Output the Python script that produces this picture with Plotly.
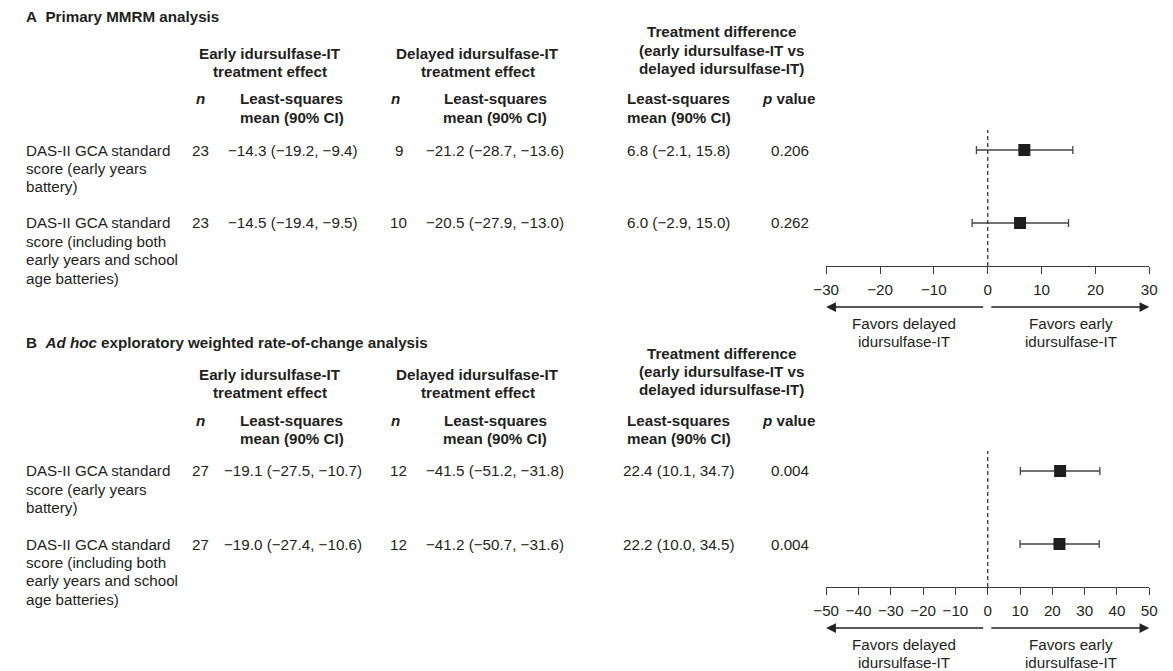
import plotly.graph_objects as go

# ---------------- data ----------------
row_labels = [
    ["DAS-II GCA standard", "score (early years", "battery)"],
    ["DAS-II GCA standard", "score (including both", "early years and school", "age batteries)"],
]

# Panel A: Primary MMRM analysis
a_n_early = [23, 23]
a_early_mean = [-14.3, -14.5]
a_early_lo = [-19.2, -19.4]
a_early_hi = [-9.4, -9.5]
a_n_delayed = [9, 10]
a_delayed_mean = [-21.2, -20.5]
a_delayed_lo = [-28.7, -27.9]
a_delayed_hi = [-13.6, -13.0]
a_diff_mean = [6.8, 6.0]
a_diff_lo = [-2.1, -2.9]
a_diff_hi = [15.8, 15.0]
a_p = ["0.206", "0.262"]
a_ticks = [-30, -20, -10, 0, 10, 20, 30]

# Panel B: Ad hoc exploratory weighted rate-of-change analysis
b_n_early = [27, 27]
b_early_mean = [-19.1, -19.0]
b_early_lo = [-27.5, -27.4]
b_early_hi = [-10.7, -10.6]
b_n_delayed = [12, 12]
b_delayed_mean = [-41.5, -41.2]
b_delayed_lo = [-51.2, -50.7]
b_delayed_hi = [-31.8, -31.6]
b_diff_mean = [22.4, 22.2]
b_diff_lo = [10.1, 10.0]
b_diff_hi = [34.7, 34.5]
b_p = ["0.004", "0.004"]
b_ticks = [-50, -40, -30, -20, -10, 0, 10, 20, 30, 40, 50]

# ---------------- layout helpers ----------------
W, H = 1173, 671
FONT = "Liberation Sans, Arial, Helvetica, sans-serif"
TXT = "#231f20"
LINE = "#3c3c3c"
FS = 15.2
LH = 18.4  # line spacing in px


def px(x):
    return x / W


def py(y):
    return 1 - y / H


def fmt(v):
    s = f"{abs(v):.1f}"
    return ("\u2212" + s) if v < 0 else s


def ci(m, lo, hi):
    return f"{fmt(m)} ({fmt(lo)}, {fmt(hi)})"


def tick_text(vals):
    return [("\u2212" + str(abs(v))) if v < 0 else str(v) for v in vals]


annotations = []
shapes = []


def text(x, y, s, xanchor="center"):
    annotations.append(dict(
        x=px(x), y=py(y), xref="paper", yref="paper", text=s, showarrow=False,
        xanchor=xanchor, yanchor="middle", align="left" if xanchor == "left" else "center",
        borderpad=0, borderwidth=0,
        font=dict(family=FONT, size=FS, color=TXT)))


def lines(x, y0, parts, xanchor="center", bold=False):
    for k, s in enumerate(parts):
        text(x, y0 + k * LH, f"<b>{s}</b>" if bold else s, xanchor)


def arrow(x_head, x_tail, y):
    annotations.append(dict(
        x=px(x_head), y=py(y), xref="paper", yref="paper",
        ax=x_tail - x_head, ay=0, axref="pixel", ayref="pixel",
        text="", showarrow=True, arrowhead=2, arrowsize=1.5, arrowwidth=1.3,
        arrowcolor="#222", standoff=0, startstandoff=0))


fig = go.Figure()

X0, X1 = 828, 1157  # forest axis pixel extent
ZERO = (X0 + X1) / 2

panels = [
    dict(off=0, title="<b>A\u00a0\u00a0Primary MMRM analysis</b>", title_y=17,
         n_e=a_n_early, e_m=a_early_mean, e_lo=a_early_lo, e_hi=a_early_hi,
         n_d=a_n_delayed, d_m=a_delayed_mean, d_lo=a_delayed_lo, d_hi=a_delayed_hi,
         t_m=a_diff_mean, t_lo=a_diff_lo, t_hi=a_diff_hi, p=a_p, ticks=a_ticks,
         xa="x", ya="y"),
    dict(off=321, title="<b>B\u00a0\u00a0<i>Ad hoc</i> exploratory weighted rate-of-change analysis</b>",
         title_y=343,
         n_e=b_n_early, e_m=b_early_mean, e_lo=b_early_lo, e_hi=b_early_hi,
         n_d=b_n_delayed, d_m=b_delayed_mean, d_lo=b_delayed_lo, d_hi=b_delayed_hi,
         t_m=b_diff_mean, t_lo=b_diff_lo, t_hi=b_diff_hi, p=b_p, ticks=b_ticks,
         xa="x2", ya="y2"),
]

layout_axes = {}
for i, P in enumerate(panels):
    o = P["off"]
    # titles and headers
    text(13, P["title_y"], P["title"], xanchor="left")
    lines(262, 53.5 + o, ["Early idursulfase-IT", "treatment effect"], bold=True)
    lines(473, 53.5 + o, ["Delayed idursulfase-IT", "treatment effect"], bold=True)
    lines(721, 32 + o, ["Treatment difference", "(early idursulfase-IT vs",
                        "delayed idursulfase-IT)"], bold=True)
    text(191, 99 + o, "<b><i>n</i></b>")
    text(389, 99 + o, "<b><i>n</i></b>")
    for cx in (284, 491, 678):
        lines(cx, 99 + o, ["Least-squares", "mean (90% CI)"], bold=True)
    text(790, 99 + o, "<b><i>p</i> value</b>")

    row_y = [150 + o, 223 + o]
    for r in range(2):
        lines(13, row_y[r], row_labels[r], xanchor="left")
        text(191, row_y[r], str(P["n_e"][r]))
        text(285, row_y[r], ci(P["e_m"][r], P["e_lo"][r], P["e_hi"][r]))
        text(393, row_y[r], str(P["n_d"][r]))
        text(491, row_y[r], ci(P["d_m"][r], P["d_lo"][r], P["d_hi"][r]))
        text(678, row_y[r], ci(P["t_m"][r], P["t_lo"][r], P["t_hi"][r]))
        text(791, row_y[r], P["p"][r])

    # forest plot axes: y domain from dashed top to axis line
    top, bottom = 130 + o, 266 + o
    step = row_y[1] - row_y[0]
    r_top = (top - row_y[0]) / step
    r_bot = (bottom - row_y[0]) / step
    t = P["ticks"]
    xkey = "xaxis" if i == 0 else "xaxis2"
    ykey = "yaxis" if i == 0 else "yaxis2"
    layout_axes[xkey] = dict(
        domain=[px(X0), px(X1)], range=[t[0], t[-1]], anchor=P["ya"],
        showline=True, linecolor=LINE, linewidth=1.3, mirror=False,
        ticks="outside", ticklen=7, tickwidth=1.3, tickcolor=LINE,
        tickvals=t, ticktext=tick_text(t), ticklabelstandoff=3,
        tickfont=dict(family=FONT, size=FS, color=TXT),
        showgrid=False, zeroline=False, fixedrange=True)
    layout_axes[ykey] = dict(
        domain=[py(bottom), py(top)], range=[r_bot, r_top], anchor=P["xa"],
        visible=False, showgrid=False, zeroline=False, fixedrange=True)

    fig.add_trace(go.Scatter(
        x=P["t_m"], y=list(range(len(P["t_m"]))), xaxis=P["xa"], yaxis=P["ya"],
        mode="markers",
        marker=dict(symbol="square", size=12, color="#1e1e1e"),
        error_x=dict(type="data", symmetric=False,
                     array=[h - m for h, m in zip(P["t_hi"], P["t_m"])],
                     arrayminus=[m - l for m, l in zip(P["t_m"], P["t_lo"])],
                     color="#444", thickness=1.3, width=4),
        hoverinfo="skip", showlegend=False))

    shapes.append(dict(type="line", xref=P["xa"], yref=P["ya"] + " domain",
                       x0=0, x1=0, y0=0, y1=1,
                       line=dict(color="#333", width=1.3, dash="4px,3px")))

    # favors arrows and labels
    ay = 307 + o
    arrow(X0, ZERO - 6, ay)
    arrow(X1, ZERO + 5, ay)
    lines((X0 + ZERO - 6) / 2, 323 + o, ["Favors delayed", "idursulfase-IT"])
    lines((X1 + ZERO + 5) / 2, 323 + o, ["Favors early", "idursulfase-IT"])

fig.update_layout(
    width=W, height=H, margin=dict(l=0, r=0, t=0, b=0),
    paper_bgcolor="white", plot_bgcolor="white", showlegend=False,
    font=dict(family=FONT, size=FS, color=TXT),
    annotations=annotations, shapes=shapes, **layout_axes)

fig.write_html("out.html", config={"displayModeBar": False},
               post_script="document.body.style.margin='0px';")
